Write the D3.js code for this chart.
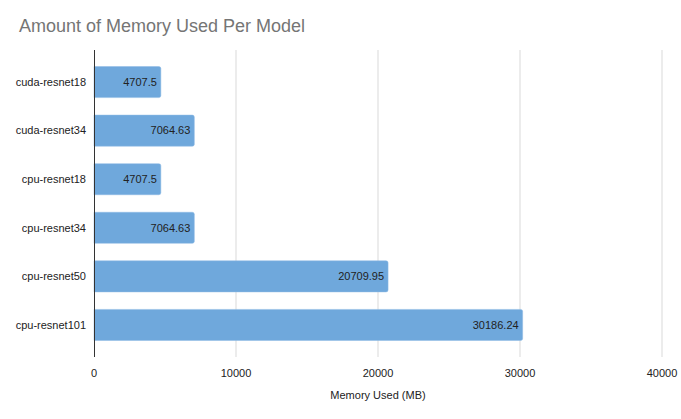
<!DOCTYPE html>
<html><head><meta charset="utf-8">
<script src="https://cdn.jsdelivr.net/npm/d3@7"></script>
<style>body{margin:0;background:#fff}svg{display:block}text{font-family:Arial,"Liberation Sans",sans-serif}</style>
</head><body>
<script>
const categories = ["cuda-resnet18","cuda-resnet34","cpu-resnet18","cpu-resnet34","cpu-resnet50","cpu-resnet101"];
const values = [4707.5,7064.63,4707.5,7064.63,20709.95,30186.24];
const labels = ["4707.5","7064.63","4707.5","7064.63","20709.95","30186.24"];
const xTicks = [0,10000,20000,30000,40000];

(function(){
const W=681,H=419;
const svg=d3.select("body").append("svg").attr("width",W).attr("height",H);
const mL=94,mR=662,mT=50,mB=357;
const x=d3.scaleLinear().domain([0,40000]).range([mL,mR]);
const y=d3.scaleBand().domain(categories).range([mT,mB]).paddingInner(0.36).paddingOuter(0.34);

svg.append("text").attr("x",19).attr("y",32).attr("font-size",18).attr("fill","#757575").text("Amount of Memory Used Per Model");

svg.append("g").selectAll("line").data(xTicks.slice(1)).join("line")
  .attr("x1",d=>x(d)).attr("x2",d=>x(d)).attr("y1",mT).attr("y2",mB)
  .attr("stroke","#d9d9d9").attr("stroke-width",1);

svg.append("g").selectAll("path").data(categories).join("path")
  .attr("fill","#6fa8dc").attr("stroke","#8fbbe4").attr("stroke-width",0.5)
  .attr("d",(c,i)=>{const x0=x(0),x1=x(values[i]),y0=y(c),h=y.bandwidth(),r=2;
    return `M${x0},${y0}H${x1-r}Q${x1},${y0} ${x1},${y0+r}V${y0+h-r}Q${x1},${y0+h} ${x1-r},${y0+h}H${x0}Z`;});

svg.append("g").selectAll("text").data(categories).join("text")
  .attr("x",(c,i)=>x(values[i])-4).attr("y",c=>y(c)+y.bandwidth()/2).attr("dy","0.35em")
  .attr("text-anchor","end").attr("font-size",11).attr("fill","#222").text((c,i)=>labels[i]);

svg.append("line").attr("x1",x(0)+0.5).attr("x2",x(0)+0.5).attr("y1",mT).attr("y2",mB).attr("stroke","#333").attr("stroke-width",1);

svg.append("g").selectAll("text").data(categories).join("text")
  .attr("x",mL-8).attr("y",c=>y(c)+y.bandwidth()/2).attr("dy","0.35em")
  .attr("text-anchor","end").attr("font-size",11).attr("fill","#222").text(c=>c);

svg.append("g").selectAll("text").data(xTicks).join("text")
  .attr("x",d=>x(d)).attr("y",377).attr("text-anchor","middle").attr("font-size",11).attr("fill","#222").text(d=>d);

svg.append("text").attr("x",(mL+mR)/2).attr("y",399).attr("text-anchor","middle").attr("font-size",11).attr("fill","#222").text("Memory Used (MB)");
})();
</script>
</body></html>
